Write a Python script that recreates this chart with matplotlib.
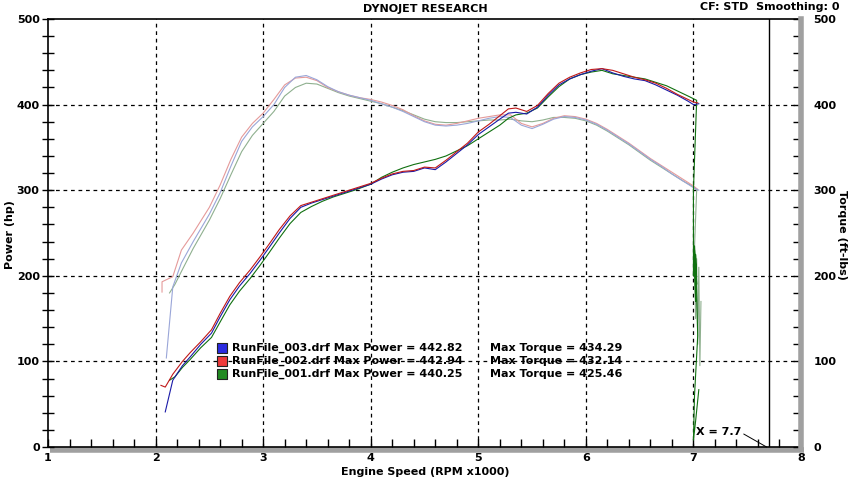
import matplotlib
matplotlib.use("Agg")
import matplotlib.pyplot as plt
from matplotlib.ticker import MultipleLocator

# ---- data (rpm x1000) ----
rpm_p3 = [2.09, 2.16, 2.25, 2.32, 2.42, 2.52, 2.60, 2.69, 2.78, 2.88, 2.97, 3.05, 3.15, 3.25, 3.35, 3.45,
          3.55, 3.65, 3.75, 3.85, 4.00, 4.10, 4.20, 4.30, 4.40, 4.50, 4.60, 4.70, 4.80, 4.90, 5.00, 5.10,
          5.20, 5.28, 5.35, 5.45, 5.55, 5.65, 5.75, 5.85, 5.95, 6.05, 6.15, 6.25, 6.35, 6.45, 6.55, 6.65,
          6.75, 6.85, 6.95, 7.00, 7.05]
hp_003 = [41, 78, 95, 105, 120, 133, 152, 172, 188, 203, 218, 232, 250, 267, 280, 285,
          289, 293, 297, 301, 307, 313, 318, 321, 322, 326, 324, 333, 343, 353, 365, 374,
          383, 390, 391, 389, 397, 411, 423, 430, 435, 439, 442, 437, 433, 430, 428, 423,
          417, 411, 404, 400, 401]

rpm_p2 = [2.05, 2.09, 2.16, 2.25, 2.32, 2.42, 2.52, 2.60, 2.69, 2.78, 2.88, 2.97, 3.05, 3.15, 3.25, 3.35,
          3.45, 3.55, 3.65, 3.75, 3.85, 4.00, 4.10, 4.20, 4.30, 4.40, 4.50, 4.60, 4.70, 4.80, 4.90, 5.00,
          5.10, 5.20, 5.28, 5.35, 5.45, 5.55, 5.65, 5.75, 5.85, 5.95, 6.05, 6.15, 6.25, 6.35, 6.45, 6.55,
          6.65, 6.75, 6.85, 6.95, 7.00, 7.04]
hp_002 = [72, 70, 85, 100, 110, 123, 137, 156, 176, 192, 207, 222, 236, 254, 270, 282,
          286, 290, 294, 298, 302, 308, 314, 319, 322, 323, 327, 326, 335, 345, 355, 368,
          377, 387, 395, 396, 392, 399, 413, 425, 432, 437, 441, 442, 440, 436, 432, 429,
          425, 419, 412, 406, 403, 402]

rpm_p1 = [2.13, 2.18, 2.25, 2.32, 2.42, 2.52, 2.60, 2.69, 2.78, 2.88, 2.97, 3.05, 3.15, 3.25, 3.35, 3.45,
          3.55, 3.65, 3.75, 3.85, 4.00, 4.10, 4.20, 4.30, 4.40, 4.50, 4.60, 4.70, 4.80, 4.90, 5.00, 5.10,
          5.20, 5.28, 5.35, 5.45, 5.55, 5.65, 5.75, 5.85, 5.95, 6.05, 6.15, 6.25, 6.35, 6.45, 6.55, 6.65,
          6.75, 6.85, 6.95, 7.03, 7.00, 7.00, 7.01, 7.02, 7.01, 7.03, 7.02, 7.04, 7.01, 7.00, 7.02, 7.05]
hp_001 = [78, 82, 93, 102, 116, 128, 146, 166, 182, 197, 212, 226, 244, 261, 274, 281,
          287, 292, 296, 300, 307, 315, 321, 326, 330, 333, 336, 340, 346, 352, 360, 368,
          376, 384, 388, 390, 396, 409, 421, 430, 435, 438, 440, 436, 434, 432, 430, 426,
          422, 416, 410, 405, 300, 200, 230, 170, 235, 190, 225, 130, 60, 8, 30, 67]

rpm_t3 = [2.10, 2.16, 2.24, 2.35, 2.50, 2.60, 2.70, 2.80, 2.90, 3.00, 3.10, 3.20, 3.30, 3.40, 3.50,
          3.60, 3.70, 3.80, 3.90, 4.00, 4.10, 4.20, 4.30, 4.40, 4.50, 4.60, 4.70, 4.80, 4.90, 5.00,
          5.10, 5.20, 5.30, 5.40, 5.50, 5.60, 5.70, 5.80, 5.90, 6.00, 6.10, 6.20, 6.30, 6.40, 6.50,
          6.60, 6.70, 6.80, 6.90, 7.00, 7.05]
tq_003 = [104, 187, 215, 240, 272, 297, 328, 357, 374, 386, 400, 420, 432, 434, 429,
          421, 415, 411, 408, 405, 401, 397, 392, 386, 380, 376, 375, 376, 378, 381,
          384, 386, 385, 376, 372, 377, 383, 386, 385, 382, 377, 370, 362, 354, 345,
          336, 328, 319, 311, 303, 300]

rpm_t2 = [2.06, 2.06, 2.16, 2.24, 2.35, 2.50, 2.60, 2.70, 2.80, 2.90, 3.00, 3.10, 3.20, 3.30, 3.40, 3.50,
          3.60, 3.70, 3.80, 3.90, 4.00, 4.10, 4.20, 4.30, 4.40, 4.50, 4.60, 4.70, 4.80, 4.90, 5.00,
          5.10, 5.20, 5.30, 5.40, 5.50, 5.60, 5.70, 5.80, 5.90, 6.00, 6.10, 6.20, 6.30, 6.40, 6.50,
          6.60, 6.70, 6.80, 6.90, 7.00, 7.04]
tq_002 = [181, 193, 199, 230, 250, 280, 306, 336, 362, 378, 390, 406, 423, 431, 432, 428,
          420, 415, 411, 408, 406, 403, 399, 394, 387, 381, 377, 376, 378, 381, 384,
          386, 388, 388, 378, 374, 378, 384, 387, 386, 383, 378, 371, 363, 355, 346,
          337, 329, 321, 313, 305, 301]

rpm_t1 = [2.13, 2.18, 2.24, 2.35, 2.50, 2.60, 2.70, 2.80, 2.90, 3.00, 3.10, 3.20, 3.30, 3.40, 3.50,
          3.60, 3.70, 3.80, 3.90, 4.00, 4.10, 4.20, 4.30, 4.40, 4.50, 4.60, 4.70, 4.80, 4.90, 5.00,
          5.10, 5.20, 5.30, 5.40, 5.50, 5.60, 5.70, 5.80, 5.90, 6.00, 6.10, 6.20, 6.30, 6.40, 6.50,
          6.60, 6.70, 6.80, 6.90, 7.00, 7.03, 7.00, 7.01, 7.02, 7.03, 7.04, 7.05, 7.06, 7.07]
tq_001 = [180, 190, 205, 232, 265, 290, 318, 345, 364, 378, 392, 410, 420, 425, 424,
          419, 414, 410, 407, 404, 401, 397, 393, 388, 383, 380, 379, 379, 380, 381,
          382, 382, 383, 381, 380, 382, 385, 385, 384, 381, 376, 369, 361, 353, 344,
          335, 327, 319, 311, 304, 300, 200, 235, 150, 220, 120, 210, 95, 170]

legend_names = ["RunFile_003.drf", "RunFile_002.drf", "RunFile_001.drf"]
max_power = [442.82, 442.94, 440.25]
max_torque = [434.29, 432.14, 425.46]
legend_colors = ["#2b2be0", "#ee3a3a", "#228a22"]

W, H = 850, 479
fig = plt.figure(figsize=(W / 100, H / 100), dpi=100)
ax = fig.add_axes([48 / W, 1 - 447 / H, (801 - 48) / W, (447 - 19) / H])

FS = 8
font = dict(fontweight="bold", fontsize=FS, color="black")

# grid
for gx in range(2, 8):
    ax.axvline(gx, color="black", lw=0.9, ls=(0, (3, 3)), zorder=1)
for gy in range(100, 500, 100):
    ax.axhline(gy, color="black", lw=0.9, ls=(0, (3, 3)), zorder=1)

# torque traces (light) and power traces (dark)
ax.plot(rpm_t1, tq_001, color="#8fb08f", lw=0.8, zorder=2)
ax.plot(rpm_t2, tq_002, color="#e59a9a", lw=0.8, zorder=2)
ax.plot(rpm_t3, tq_003, color="#9aa6d8", lw=0.8, zorder=2)
ax.plot(rpm_p1, hp_001, color="#107010", lw=0.8, zorder=3)
ax.plot(rpm_p3, hp_003, color="#1a1aa8", lw=0.8, zorder=3)
ax.plot(rpm_p2, hp_002, color="#c01818", lw=0.8, zorder=3)

# cursor
ax.axvline(7.7, color="black", lw=1.0, zorder=4)
ax.annotate("X = 7.7", xy=(7.68, 0), xytext=(7.02, 17), fontsize=FS, fontweight="bold",
            va="center", ha="left", arrowprops=dict(arrowstyle="-", lw=0.7, color="black",
                                                     shrinkA=0, shrinkB=0,
                                                     relpos=(1.0, 0.5)), zorder=5)

# legend block
leg_y = [115.5, 100.5, 85.0]
for i in range(3):
    ax.scatter([2.62], [leg_y[i]], marker="s", s=55, color=legend_colors[i],
               edgecolor="#222222", lw=0.8, zorder=6)
    ax.text(2.71, leg_y[i], "%s Max Power = %.2f" % (legend_names[i], max_power[i]),
            va="center", ha="left", zorder=6, **font)
    ax.text(5.11, leg_y[i], "Max Torque = %.2f" % max_torque[i],
            va="center", ha="left", zorder=6, **font)

ax.set_xlim(1, 8)
ax.set_ylim(0, 500)
ax.xaxis.set_major_locator(MultipleLocator(1))
ax.xaxis.set_minor_locator(MultipleLocator(0.2))
ax.yaxis.set_major_locator(MultipleLocator(100))
ax.yaxis.set_minor_locator(MultipleLocator(20))
ax.tick_params(axis="y", which="both", direction="inout", length=8, width=1, pad=2,
               labelsize=FS)
ax.tick_params(axis="x", which="both", direction="in", length=6, width=1, pad=4,
               labelsize=FS)
for lab in ax.get_xticklabels() + ax.get_yticklabels():
    lab.set_fontweight("bold")

ax.spines["left"].set_linewidth(1.2)
ax.spines["top"].set_linewidth(1.2)
ax.spines["bottom"].set_linewidth(1.2)
ax.spines["right"].set_visible(False)

ax2 = ax.twinx()
ax2.set_ylim(0, 500)
ax2.yaxis.set_major_locator(MultipleLocator(100))
ax2.yaxis.set_minor_locator(MultipleLocator(20))
ax2.tick_params(axis="y", which="both", direction="in", length=6, width=1, pad=9,
                labelsize=FS)
for lab in ax2.get_yticklabels():
    lab.set_fontweight("bold")
for s in ["left", "top", "bottom"]:
    ax2.spines[s].set_visible(False)
ax2.spines["right"].set_color("#a0a0a0")
ax2.spines["right"].set_linewidth(4)

# gray shadow under the x axis
ax.plot([0.003, 1.004], [-0.007, -0.007], transform=ax.transAxes, color="#a0a0a0",
        lw=4, clip_on=False, solid_capstyle="butt", zorder=0)

fig.text(0.5, 1 - 9 / H, "DYNOJET RESEARCH", ha="center", va="center", **font)
fig.text(840 / W, 1 - 7 / H, "CF: STD  Smoothing: 0", ha="right", va="center", **font)
fig.text(425 / W, 1 - 472 / H, "Engine Speed (RPM x1000)", ha="center", va="center", **font)
fig.text(10 / W, 1 - 235 / H, "Power (hp)", ha="center", va="center", rotation=90, **font)
fig.text(842 / W, 1 - 235 / H, "Torque (ft-lbs)", ha="center", va="center", rotation=270, **font)

fig.savefig("out.png", dpi=100)
